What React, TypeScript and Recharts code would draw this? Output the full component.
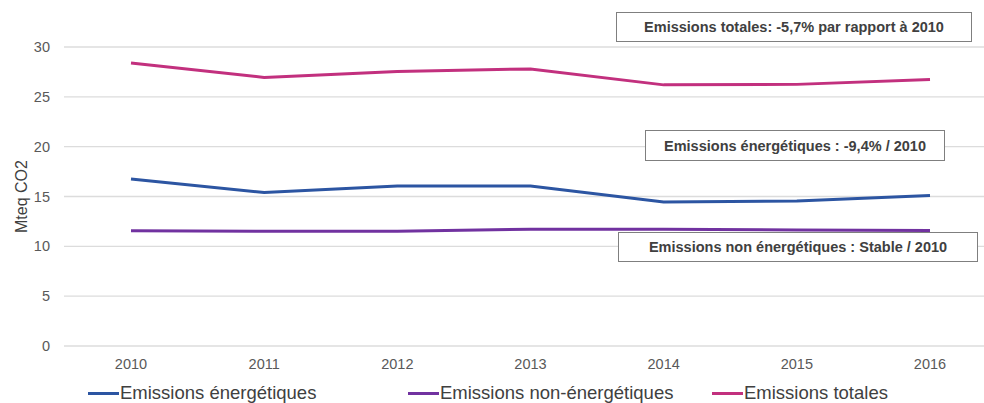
import React from 'react';
import { LineChart, Line, XAxis, YAxis, CartesianGrid, Legend } from 'recharts';

const years = ['2010', '2011', '2012', '2013', '2014', '2015', '2016'];
const energetiques = [16.75, 15.4, 16.05, 16.05, 14.45, 14.55, 15.1];
const nonEnergetiques = [11.57, 11.52, 11.52, 11.72, 11.72, 11.65, 11.58];
const totales = [28.4, 26.95, 27.55, 27.8, 26.2, 26.25, 26.75];
const yTicks = [0, 5, 10, 15, 20, 25, 30];

const seriesNames = ['Emissions énergétiques', 'Emissions non-énergétiques', 'Emissions totales'];
const seriesColors = ['#2C55A2', '#7132A0', '#C2307E'];

const annotations = [
  'Emissions totales: -5,7% par rapport à 2010',
  'Emissions énergétiques : -9,4% / 2010',
  'Emissions non énergétiques : Stable / 2010',
];

const data = years.map((y, i) => ({
  year: y,
  e: energetiques[i],
  n: nonEnergetiques[i],
  t: totales[i],
}));

const FONT = '"Liberation Sans", Arial, sans-serif';

const boxStyles: React.CSSProperties[] = [
  { left: 616, top: 12, width: 356, height: 30 },
  { left: 645, top: 130, width: 300, height: 31 },
  { left: 618, top: 232, width: 360, height: 30 },
];

const legendLefts = [88, 408, 712];

const renderLegend = () => (
  <div style={{ position: 'relative', width: 984, height: 30 }}>
    {seriesNames.map((name, i) => (
      <div
        key={name}
        style={{
          position: 'absolute',
          left: legendLefts[i],
          top: 0,
          display: 'flex',
          alignItems: 'center',
          height: 30,
          whiteSpace: 'nowrap',
        }}
      >
        <div style={{ width: 31, height: 3, background: seriesColors[i], marginRight: 1 }} />
        <span style={{ fontFamily: FONT, fontSize: 18.5, color: '#404040' }}>{name}</span>
      </div>
    ))}
  </div>
);

export default function App() {
  return (
    <div
      style={{
        position: 'absolute',
        left: 0,
        top: 0,
        width: 984,
        height: 403,
        overflow: 'hidden',
        background: '#fff',
      }}
    >
      <LineChart
        width={1000}
        height={403}
        data={data}
        margin={{ top: 47, right: 3, left: 0, bottom: 27 }}
      >
        <CartesianGrid vertical={false} stroke="#DCDCDC" strokeWidth={1.3} />
        <XAxis
          dataKey="year"
          height={30}
          axisLine={false}
          tickLine={false}
          tickSize={0}
          tickMargin={13}
          padding={{ left: 67, right: 67 }}
          tick={{ fill: '#595959', fontSize: 14.5, fontFamily: FONT }}
          interval={0}
        />
        <YAxis
          width={64}
          domain={[0, 30]}
          ticks={yTicks}
          axisLine={false}
          tickLine={false}
          tickSize={0}
          tickMargin={14}
          tick={{ fill: '#595959', fontSize: 14.5, fontFamily: FONT }}
          label={{
            value: 'Mteq CO2',
            angle: -90,
            position: 'insideLeft',
            offset: 21,
            style: { textAnchor: 'middle', fill: '#404040', fontSize: 16, fontFamily: FONT },
          }}
        />
        <Legend
          verticalAlign="middle"
          align="center"
          layout="horizontal"
          wrapperStyle={{ top: 378, left: 0, width: 984, height: 30 }}
          content={renderLegend}
        />
        <Line type="linear" dataKey="e" name={seriesNames[0]} stroke={seriesColors[0]} strokeWidth={3} dot={false} isAnimationActive={false} />
        <Line type="linear" dataKey="n" name={seriesNames[1]} stroke={seriesColors[1]} strokeWidth={3} dot={false} isAnimationActive={false} />
        <Line type="linear" dataKey="t" name={seriesNames[2]} stroke={seriesColors[2]} strokeWidth={3} dot={false} isAnimationActive={false} />
      </LineChart>
      {annotations.map((txt, i) => (
        <div
          key={txt}
          style={{
            position: 'absolute',
            ...boxStyles[i],
            boxSizing: 'border-box',
            border: '1.5px solid #7F7F7F',
            background: '#fff',
            display: 'flex',
            alignItems: 'center',
            justifyContent: 'center',
            fontFamily: FONT,
            fontWeight: 'bold',
            fontSize: 14.5,
            color: '#404040',
            whiteSpace: 'nowrap',
          }}
        >
          {txt}
        </div>
      ))}
    </div>
  );
}
